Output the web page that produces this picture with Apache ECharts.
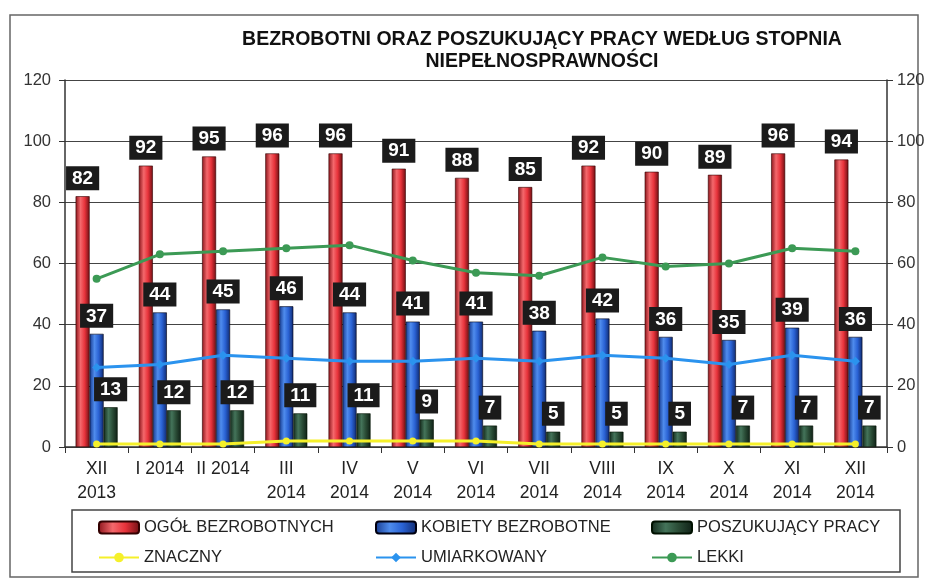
<!DOCTYPE html>
<html>
<head>
<meta charset="utf-8">
<script src="https://cdn.jsdelivr.net/npm/echarts@6/dist/echarts.min.js"></script>
<style>
  html, body { margin: 0; padding: 0; background: #fff; }
  #chart { width: 928px; height: 581px; }
</style>
</head>
<body>
<div id="chart"></div>
<script>
var months = ['XII\n2013', 'I 2014', 'II 2014', 'III\n2014', 'IV\n2014', 'V\n2014', 'VI\n2014',
              'VII\n2014', 'VIII\n2014', 'IX\n2014', 'X\n2014', 'XI\n2014', 'XII\n2014'];
var ogol = [82, 92, 95, 96, 96, 91, 88, 85, 92, 90, 89, 96, 94];
var kobiety = [37, 44, 45, 46, 44, 41, 41, 38, 42, 36, 35, 39, 36];
var poszukujacy = [13, 12, 12, 11, 11, 9, 7, 5, 5, 5, 7, 7, 7];
var znaczny = [1, 1, 1, 2, 2, 2, 2, 1, 1, 1, 1, 1, 1];
var umiarkowany = [26, 27, 30, 29, 28, 28, 29, 28, 30, 29, 27, 30, 28];
var lekki = [55, 63, 64, 65, 66, 61, 57, 56, 62, 59, 60, 65, 64];
var yTicks = [0, 20, 40, 60, 80, 100, 120];

(function(){
    var myChart = echarts.init(document.getElementById('chart'));

    function cyl(dark, light, mid, edge){
        return new echarts.graphic.LinearGradient(0, 0, 1, 0, [
            {offset: 0, color: dark},
            {offset: 0.35, color: light},
            {offset: 0.65, color: mid},
            {offset: 1, color: edge}
        ]);
    }

    var boxLabel = {
        show: true,
        position: 'top',
        distance: 6,
        backgroundColor: '#1b1b1b',
        color: '#fff',
        fontFamily: 'Liberation Sans',
        fontWeight: 'bold',
        fontSize: 19,
        padding: [3, 6, 2, 6]
    };

    var legendText = {
        color: '#222',
        fontFamily: 'Liberation Sans',
        fontSize: 16.5
    };

    var option = {
        backgroundColor: '#fff',
        animation: false,
        title: {
            text: 'BEZROBOTNI ORAZ POSZUKUJĄCY PRACY WEDŁUG STOPNIA\nNIEPEŁNOSPRAWNOŚCI',
            left: 537,
            top: 24,
            textAlign: 'center',
            textStyle: {
                fontFamily: 'Liberation Sans',
                fontWeight: 'bold',
                fontSize: 19.5,
                lineHeight: 22,
                color: '#111'
            }
        },
        graphic: [
            {type: 'rect', shape: {x: 10, y: 15, width: 908, height: 562},
             style: {fill: 'none', stroke: '#666', lineWidth: 1.5}, z: -1},
            {type: 'rect', shape: {x: 72, y: 510, width: 828, height: 62},
             style: {fill: 'none', stroke: '#444', lineWidth: 1.5}, z: -1}
        ],
        legend: [
            {left: 93, top: 514, orient: 'vertical', itemWidth: 40, itemHeight: 12, itemGap: 13,
             data: ['OGÓŁ BEZROBOTNYCH', 'ZNACZNY'], textStyle: legendText},
            {left: 370, top: 514, orient: 'vertical', itemWidth: 40, itemHeight: 12, itemGap: 13,
             data: ['KOBIETY BEZROBOTNE', 'UMIARKOWANY'], textStyle: legendText},
            {left: 646, top: 514, orient: 'vertical', itemWidth: 40, itemHeight: 12, itemGap: 13,
             data: ['POSZUKUJĄCY PRACY', 'LEKKI'], textStyle: legendText}
        ],
        grid: {
            left: 65,
            right: 41,
            top: 80,
            bottom: 134
        },
        xAxis: {
            type: 'category',
            data: months,
            axisLine: {lineStyle: {color: '#333', width: 1.5}},
            axisTick: {show: true, length: 6, lineStyle: {color: '#333'}},
            axisLabel: {
                color: '#222',
                fontFamily: 'Liberation Sans',
                fontSize: 17.5,
                lineHeight: 24,
                margin: 10,
                interval: 0
            }
        },
        yAxis: [
            {
                type: 'value', min: 0, max: 120, interval: 20,
                axisLine: {show: true, lineStyle: {color: '#333', width: 1.5}},
                axisTick: {show: true, length: 6, lineStyle: {color: '#333'}},
                axisLabel: {color: '#333', fontFamily: 'Liberation Sans', fontSize: 16.5, margin: 14},
                splitLine: {show: true, lineStyle: {color: '#444', width: 1.2}}
            },
            {
                type: 'value', min: 0, max: 120, interval: 20,
                axisLine: {show: true, lineStyle: {color: '#333', width: 1.5}},
                axisTick: {show: true, length: 6, lineStyle: {color: '#333'}},
                axisLabel: {color: '#333', fontFamily: 'Liberation Sans', fontSize: 16.5, margin: 10},
                splitLine: {show: false}
            }
        ],
        series: [
            {
                name: 'OGÓŁ BEZROBOTNYCH',
                type: 'bar',
                data: ogol,
                barWidth: 14,
                barGap: '0%',
                itemStyle: {color: cyl('#8a141a', '#f4686c', '#e8333b', '#6e0e12'), borderColor: '#300', borderWidth: 0.6},
                label: boxLabel
            },
            {
                name: 'KOBIETY BEZROBOTNE',
                type: 'bar',
                data: kobiety,
                barWidth: 14,
                barGap: '0%',
                itemStyle: {color: cyl('#173a8e', '#4f8ced', '#2a62d4', '#102a70'), borderColor: '#001', borderWidth: 0.6},
                label: boxLabel
            },
            {
                name: 'POSZUKUJĄCY PRACY',
                type: 'bar',
                data: poszukujacy,
                barWidth: 14,
                barGap: '0%',
                itemStyle: {color: cyl('#142a1c', '#44745a', '#2a4c36', '#0f2016'), borderColor: '#010', borderWidth: 0.6},
                label: boxLabel
            },
            {
                name: 'ZNACZNY',
                type: 'line',
                yAxisIndex: 1,
                data: znaczny,
                symbol: 'circle',
                symbolSize: 7,
                lineStyle: {color: '#f5f02a', width: 3},
                itemStyle: {color: '#f5f02a'}
            },
            {
                name: 'UMIARKOWANY',
                type: 'line',
                yAxisIndex: 1,
                data: umiarkowany,
                symbol: 'diamond',
                symbolSize: 9,
                lineStyle: {color: '#2b93ee', width: 3},
                itemStyle: {color: '#2b93ee'}
            },
            {
                name: 'LEKKI',
                type: 'line',
                yAxisIndex: 1,
                data: lekki,
                symbol: 'circle',
                symbolSize: 8,
                lineStyle: {color: '#3c9a55', width: 3},
                itemStyle: {color: '#3c9a55'}
            }
        ]
    };
    myChart.setOption(option);
    window.addEventListener('resize', function(){
        myChart.resize();
    });
})();
</script>
</body>
</html>
